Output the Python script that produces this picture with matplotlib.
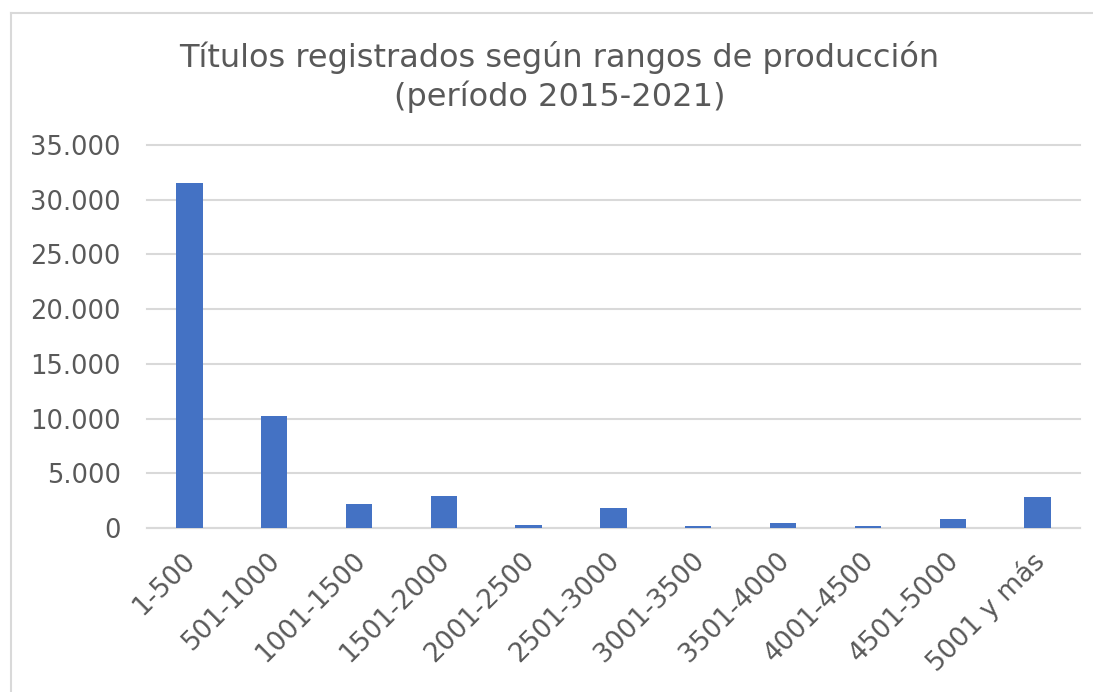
import matplotlib
matplotlib.use("Agg")
import matplotlib.pyplot as plt
from matplotlib.ticker import FuncFormatter, MultipleLocator
from matplotlib.lines import Line2D
from matplotlib.transforms import ScaledTranslation

# rangos de producción y número de títulos registrados
rangos = ["1-500", "501-1000", "1001-1500", "1501-2000", "2001-2500",
          "2501-3000", "3001-3500", "3501-4000", "4001-4500", "4501-5000",
          "5001 y más"]
titulos = [31550, 10250, 2200, 2950, 300, 1850, 180, 430, 150, 850, 2850]

titulo = "Títulos registrados según rangos de producción\n(período 2015-2021)"

azul = "#4472C4"
gris_txt = "#595959"
gris_lin = "#d9d9d9"

plt.rcParams["font.family"] = ["DejaVu Sans"]

fig = plt.figure(figsize=(10.93, 6.92), dpi=100)
ax = fig.add_axes([0.1345, 0.237, 0.8535, 0.5535])

x = list(range(len(rangos)))
ax.bar(x, titulos, width=0.31, color=azul, zorder=3)

ax.set_xlim(-0.5, len(rangos) - 0.5)
ax.set_ylim(0, 35000)
ax.yaxis.set_major_locator(MultipleLocator(5000))
ax.yaxis.set_major_formatter(FuncFormatter(lambda v, p: f"{int(v):,}".replace(",", ".")))
ax.grid(axis="y", color=gris_lin, linewidth=1.5, zorder=0)
for gl in ax.get_ygridlines():
    gl.set_clip_on(False)

for s in ["top", "right", "left"]:
    ax.spines[s].set_visible(False)
ax.spines["bottom"].set_color(gris_lin)
ax.spines["bottom"].set_linewidth(1.5)

ax.set_xticks(x)
ax.set_xticklabels(rangos, rotation=45, ha="right", rotation_mode="anchor")
ax.tick_params(axis="x", length=0, pad=14, labelsize=19, labelcolor=gris_txt)
ax.tick_params(axis="y", length=0, pad=19, labelsize=18.5, labelcolor=gris_txt)

# desplazar un poco las etiquetas hacia la izquierda
desplaz = ScaledTranslation(-7 / 100, 0, fig.dpi_scale_trans)
for lbl in ax.get_xticklabels():
    lbl.set_transform(lbl.get_transform() + desplaz)

fig.text(0.512, 0.889, titulo, ha="center", va="center", fontsize=23,
         color=gris_txt, linespacing=1.25)

# borde del gráfico
fig.add_artist(Line2D([0.0105, 1.0], [0.981, 0.981], color=gris_lin, linewidth=1.5))
fig.add_artist(Line2D([0.0105, 0.0105], [0.0, 0.981], color=gris_lin, linewidth=1.5))

fig.savefig("out.png", dpi=100, facecolor="white")
